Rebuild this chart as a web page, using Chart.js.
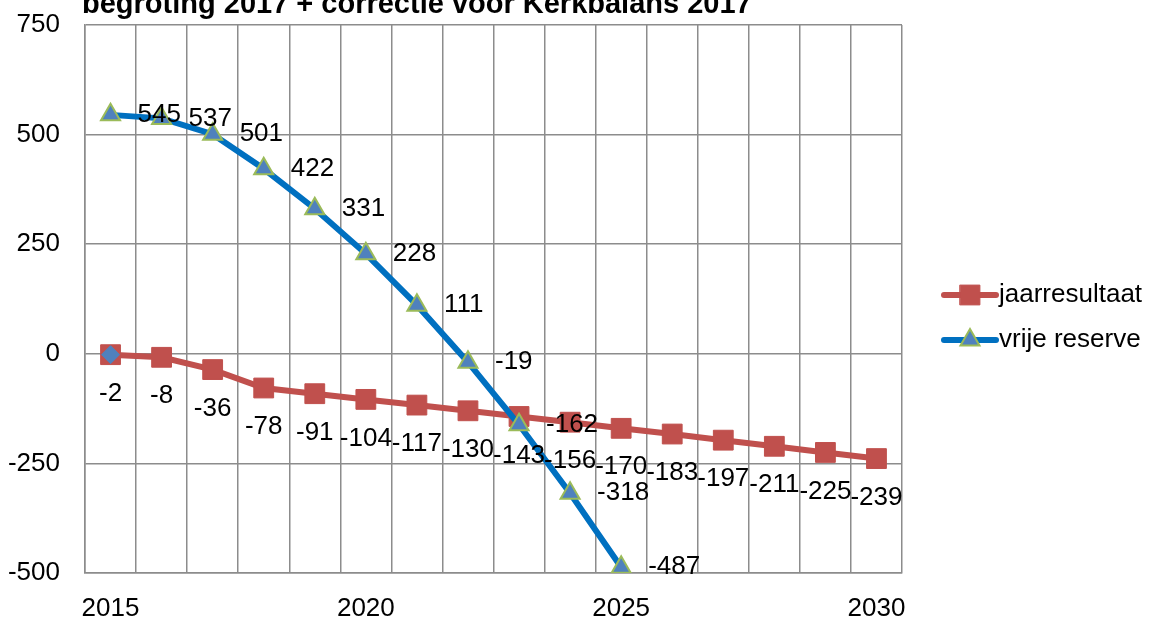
<!DOCTYPE html>
<html><head><meta charset="utf-8">
<script src="https://cdn.jsdelivr.net/npm/chart.js@4.4.1/dist/chart.umd.min.js"></script>
<style>html,body{margin:0;padding:0;background:#fff;overflow:hidden}#wrap{width:1152px;height:619px;position:relative}</style>
</head><body><div id="wrap"><canvas id="c"></canvas></div>
<script>
const chartTitle = 'begroting 2017 + correctie voor Kerkbalans 2017';
const years = ['2015','2016','2017','2018','2019','2020','2021','2022','2023','2024','2025','2026','2027','2028','2029','2030'];
const shownYearLabels = ['2015','2020','2025','2030'];
const jaarresultaat = [-2,-8,-36,-78,-91,-104,-117,-130,-143,-156,-170,-183,-197,-211,-225,-239];
const vrijeReserve = [545,537,501,422,331,228,111,-19,-162,-318,-487,null,null,null,null,null];
const startMarker = [-2,null,null,null,null,null,null,null,null,null,null,null,null,null,null,null];
const seriesNames = ['jaarresultaat','vrije reserve'];
const yMin = -500, yMax = 750, yStep = 250;

const FONT = '"Liberation Sans", Arial, sans-serif';
const RED = '#C0504D', BLUE_LINE = '#0070C0', BLUE_FILL = '#4F81BD', GREEN = '#9BBB59';
const GRID = '#8c8c8c';
const LW = 6;

const labelPlugin = {
  id: 'valueLabels',
  afterDatasetsDraw(chart) {
    const ctx = chart.ctx;
    ctx.save();
    ctx.font = '26px ' + FONT;
    ctx.fillStyle = '#000';
    const m0 = chart.getDatasetMeta(0);
    ctx.textAlign = 'center'; ctx.textBaseline = 'middle';
    m0.data.forEach((pt, i) => {
      const v = jaarresultaat[i];
      if (v == null) return;
      ctx.fillText(String(v), pt.x, pt.y + 39);
    });
    const m1 = chart.getDatasetMeta(1);
    ctx.textAlign = 'left';
    m1.data.forEach((pt, i) => {
      const v = vrijeReserve[i];
      if (v == null) return;
      ctx.fillText(String(v), pt.x + 27, pt.y);
    });
    ctx.restore();
  }
};

const decorPlugin = {
  id: 'decor',
  afterDraw(chart) {
    const ctx = chart.ctx;
    ctx.save();
    ctx.font = 'bold 29px ' + FONT;
    ctx.fillStyle = '#000';
    ctx.textAlign = 'left'; ctx.textBaseline = 'alphabetic';
    ctx.fillText(chartTitle, 82, 13);
    const items = [
      {name: seriesNames[0], y: 295, line: RED, style: 'rect', r: 14, fill: RED, border: RED, bw: 1},
      {name: seriesNames[1], y: 340, line: BLUE_LINE, style: 'triangle', r: 11, fill: BLUE_FILL, border: GREEN, bw: 2}
    ];
    items.forEach(it => {
      ctx.strokeStyle = it.line; ctx.lineWidth = LW; ctx.lineCap = 'round';
      ctx.beginPath(); ctx.moveTo(944, it.y); ctx.lineTo(996, it.y); ctx.stroke();
      ctx.fillStyle = it.fill; ctx.strokeStyle = it.border; ctx.lineWidth = it.bw;
      Chart.helpers.drawPoint(ctx, {pointStyle: it.style, radius: it.r, borderWidth: it.bw, rotation: 0}, 970, it.y);
      ctx.fillStyle = '#000';
      ctx.font = '26px ' + FONT;
      ctx.textAlign = 'left'; ctx.textBaseline = 'middle';
      ctx.fillText(it.name, 999, it.y);
    });
    ctx.restore();
  }
};

new Chart(document.getElementById('c'), {
  type: 'line',
  data: {
    labels: years,
    datasets: [
      {label: seriesNames[0], data: jaarresultaat, borderColor: RED, backgroundColor: RED, borderWidth: LW,
       pointStyle: 'rect', pointRadius: 14, pointBackgroundColor: RED, pointBorderColor: RED, pointBorderWidth: 1,
       tension: 0, order: 3},
      {label: seriesNames[1], data: vrijeReserve, borderColor: BLUE_LINE, backgroundColor: BLUE_FILL, borderWidth: LW,
       pointStyle: 'triangle', pointRadius: 11, pointBackgroundColor: BLUE_FILL, pointBorderColor: GREEN, pointBorderWidth: 2,
       tension: 0, spanGaps: false, order: 2},
      {label: '', data: startMarker, showLine: false, pointStyle: 'rectRot', pointRadius: 9,
       pointBackgroundColor: BLUE_FILL, pointBorderColor: BLUE_FILL, pointBorderWidth: 1, order: 1}
    ]
  },
  options: {
    responsive: true, maintainAspectRatio: false, animation: false, events: [],
    layout: {padding: {left: 0, top: 25, right: 250, bottom: 0}},
    plugins: {legend: {display: false}, title: {display: false}, tooltip: {enabled: false}},
    scales: {
      x: {
        type: 'category', offset: true,
        grid: {offset: true, color: GRID, lineWidth: 1.5, drawTicks: false},
        border: {color: GRID, width: 1.5},
        ticks: {autoSkip: false, maxRotation: 0, padding: 20, color: '#000', font: {family: FONT, size: 26},
          callback: function(v, i) { const l = years[i]; return shownYearLabels.includes(l) ? l : ''; }},
        afterFit(s) { s.height = 46; s.paddingLeft = 0; s.paddingRight = 0; }
      },
      y: {
        min: yMin, max: yMax,
        grid: {color: GRID, lineWidth: 1.5, drawTicks: false},
        border: {color: GRID, width: 1.5},
        ticks: {stepSize: yStep, padding: 25, color: '#000', font: {family: FONT, size: 26}},
        afterFit(s) { s.width = 85; s.paddingTop = 0; s.paddingBottom = 0; }
      }
    }
  },
  plugins: [labelPlugin, decorPlugin]
});
</script></body></html>
